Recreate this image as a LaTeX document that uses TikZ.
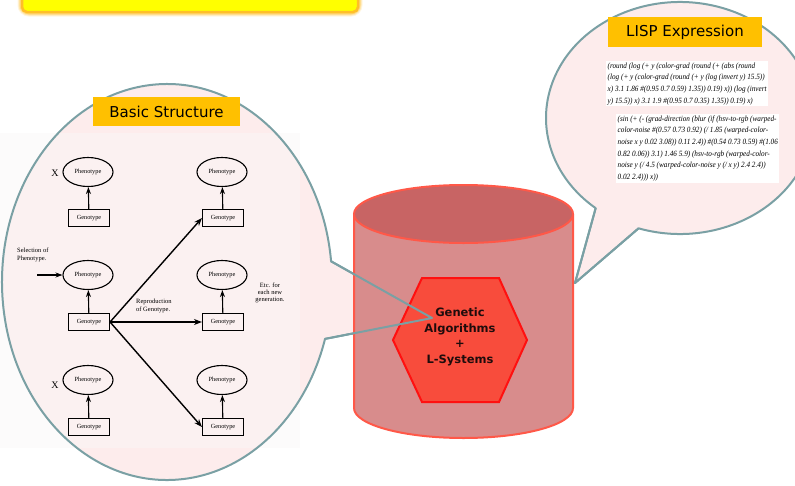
\documentclass[tikz,border=0pt]{standalone}
\usepackage{fontspec}
\setmainfont{Liberation Serif}
\newfontfamily\labelfont{DejaVu Sans}
\newfontfamily\lispfont[FakeStretch=0.9]{Liberation Serif}
\usetikzlibrary{arrows.meta,calc,shapes.geometric}

\definecolor{calloutfill}{RGB}{253,236,236}
\definecolor{calloutline}{RGB}{122,160,164}
\definecolor{tagorange}{RGB}{255,192,0}
\definecolor{cylbody}{RGB}{216,140,140}
\definecolor{cyltop}{RGB}{200,100,100}
\definecolor{cylline}{RGB}{255,88,72}
\definecolor{hexfill}{RGB}{248,76,60}
\definecolor{hexline}{RGB}{255,16,16}
\definecolor{banner}{RGB}{255,255,0}
\definecolor{bannerglow}{RGB}{255,190,40}
\definecolor{scanbg}{RGB}{250,247,247}
\definecolor{hexink}{RGB}{30,12,12}

% outlines of the two speech bubbles
\newcommand\lbubblepath{(lc) ++(6:165pt and 198pt)
  arc[start angle=6, end angle=343.3, x radius=165pt, y radius=198pt]
  -- (ltip) -- cycle}
\newcommand\rbubblepath{(rc) ++(252:134pt and 116pt)
  arc[start angle=252, end angle=591, x radius=134pt, y radius=116pt]
  -- (rtip) -- cycle}

\begin{document}
\begin{tikzpicture}[x=1pt,y=1pt,
  pheno/.style={ellipse, draw, line width=1.1pt, minimum width=50pt,
    minimum height=29pt, inner sep=0pt, font=\fontsize{6.3}{7}\selectfont},
  geno/.style={rectangle, draw, line width=1.1pt, minimum width=41pt,
    minimum height=17pt, inner sep=0pt, font=\fontsize{6.3}{7}\selectfont},
  arr/.style={line width=1.1pt, -{Stealth[length=7pt,width=5pt]}},
  bigarr/.style={line width=1.4pt, -{Stealth[length=8pt,width=6pt]}},
  note/.style={font=\fontsize{6.5}{7.3}\selectfont, inner sep=0pt},
  tag/.style={fill=tagorange, inner sep=0pt, font=\labelfont\fontsize{15}{18}\selectfont},
  lispbox/.style={fill=white, inner sep=1.5pt, align=left,
    font=\lispfont\itshape\fontsize{8}{11.6}\selectfont},
  bubble/.style={fill=calloutfill},
  bubbleedge/.style={draw=calloutline, line width=2pt, line join=round},
  hextext/.style={align=center, text=hexink, inner sep=0pt,
    font=\labelfont\bfseries\fontsize{11.5}{15.5}\selectfont}]

\useasboundingbox (0,0) rectangle (795,-485);
\clip (0,0) rectangle (795,-485);

% reference points of the bubbles
\coordinate (lc) at (167,-282);
\coordinate (ltip) at (432,-318);
\coordinate (lb1) at ($(lc)+(6:165pt and 198pt)$);
\coordinate (lb2) at ($(lc)+(343.3:165pt and 198pt)$);
\coordinate (rc) at (680,-118);
\coordinate (rtip) at (575,-283);
\coordinate (rb1) at ($(rc)+(231:134pt and 116pt)$);
\coordinate (rb2) at ($(rc)+(252:134pt and 116pt)$);

% title banner with its soft glow
\foreach \g/\o in {9/0.15,7/0.25,5/0.4}{
  \draw[bannerglow, line width=\g pt, opacity=\o, rounded corners=7pt]
    (22,8) rectangle (358,-12);}
\draw[fill=banner, draw=bannerglow, line width=2.5pt, rounded corners=5pt]
  (22,8) rectangle (358,-12);

% right bubble: LISP expression
\path[bubble] \rbubblepath;
\path[bubbleedge] \rbubblepath;
\node[tag, minimum width=154pt, minimum height=30pt] (lisptag) at (685,-32) {LISP Expression};
\node[lispbox, anchor=north west] (lispa) at (606,-61)
 {(round (log (+ y (color-grad (round (+ (abs (round\\
  (log (+ y (color-grad (round (+ y (log (invert y) 15.5))\\
  x) 3.1 1.86 \#(0.95 0.7 0.59) 1.35)) 0.19) x)) (log (invert\\
  y) 15.5)) x) 3.1 1.9 \#(0.95 0.7 0.35) 1.35)) 0.19) x)};
\node[lispbox, anchor=north west] (lispb) at (616,-114)
 {(sin (+ (- (grad-direction (blur (if (hsv-to-rgb (warped-\\
  color-noise \#(0.57 0.73 0.92) (/ 1.85 (warped-color-\\
  noise x y 0.02 3.08)) 0.11 2.4)) \#(0.54 0.73 0.59) \#(1.06\\
  0.82 0.06)) 3.1) 1.46 5.9) (hsv-to-rgb (warped-color-\\
  noise y (/ 4.5 (warped-color-noise y (/ x y) 2.4 2.4))\\
  0.02 2.4))) x))};

% left bubble: basic structure
\path[bubble] \lbubblepath;
\fill[scanbg, opacity=.5] (0,-133) rectangle (300,-448);
\path[bubbleedge] \lbubblepath;
\node[tag, minimum width=147pt, minimum height=29pt] (bstag) at (166.5,-111.5) {Basic Structure};

% phenotypes and genotypes
\node[pheno] (pL1) at (88,-172) {Phenotype};
\node[pheno] (pL2) at (88,-275) {Phenotype};
\node[pheno] (pL3) at (88,-380) {Phenotype};
\node[geno]  (gL1) at (89,-218) {Genotype};
\node[geno]  (gL2) at (89,-322) {Genotype};
\node[geno]  (gL3) at (89,-427) {Genotype};
\node[pheno] (pR1) at (222,-172) {Phenotype};
\node[pheno] (pR2) at (222,-275) {Phenotype};
\node[pheno] (pR3) at (222,-380) {Phenotype};
\node[geno]  (gR1) at (223,-218) {Genotype};
\node[geno]  (gR2) at (223,-322) {Genotype};
\node[geno]  (gR3) at (223,-427) {Genotype};

\foreach \s in {L1,L2,L3,R1,R2,R3}{\draw[arr] (g\s) -- (p\s);}
\draw[bigarr] (gL2.east) -- (gR1.west);
\draw[bigarr] (gL2.east) -- (gR2.west);
\draw[bigarr] (gL2.east) -- (gR3.west);

\node[font=\fontsize{10}{10}\selectfont, inner sep=0pt] (x1) at (55,-173) {X};
\node[font=\fontsize{10}{10}\selectfont, inner sep=0pt] (x3) at (55,-385) {X};
\node[note, align=left, anchor=west] (sel) at (17,-255) {Selection of\\Phenotype.};
\coordinate (selstart) at (37,-275);
\draw[arr] (selstart) -- (pL2.west);
\node[note, align=left, anchor=west] (repro) at (136,-306) {Reproduction\\of Genotype.};
\node[note, align=center] (etc) at (270,-293) {Etc. for\\each new\\generation.};

% cylinder
\filldraw[fill=cylbody, draw=cylline, line width=2pt]
  (354,-214) -- (354,-408)
  arc[start angle=180, end angle=360, x radius=109.5pt, y radius=30pt]
  -- (573,-214);
\draw[fill=cyltop, draw=cylline, line width=2pt]
  (463.5,-214) ellipse[x radius=109.5pt, y radius=29pt];

% hexagon
\draw[fill=hexfill, draw=hexline, line width=2pt, line join=miter]
  (422,-278) -- (499,-278) -- (527,-340) -- (499,-402) -- (422,-402) -- (393,-340) -- cycle;
\node[hextext] (ga) at (460,-337) {Genetic\\Algorithms\\+\\L-Systems};

% bubble pointers on top
\draw[bubbleedge] (lb1) -- (ltip) -- (lb2);
\draw[bubbleedge] (rb1) -- (rtip) -- (rb2);
\end{tikzpicture}
\end{document}
